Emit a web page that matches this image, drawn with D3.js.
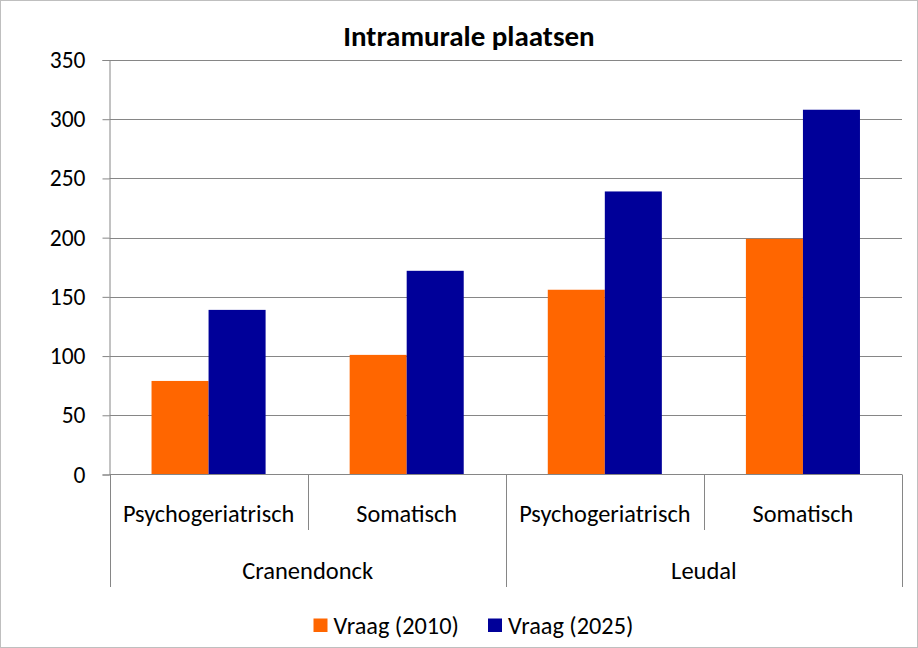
<!DOCTYPE html>
<html>
<head>
<meta charset="utf-8">
<script src="https://cdn.jsdelivr.net/npm/d3@7/dist/d3.min.js"></script>
<style>
  html, body { margin: 0; padding: 0; background: #fff; }
  svg { display: block; }
  text { font-family: Carlito, Calibri, Lato, "Open Sans", sans-serif; fill: #000; }
</style>
</head>
<body>
<svg id="chart" width="918" height="648"></svg>
<script>
const title = "Intramurale plaatsen";
const groups = ["Cranendonck", "Leudal"];
const categories = ["Psychogeriatrisch", "Somatisch"];
const seriesNames = ["Vraag (2010)", "Vraag (2025)"];
const vraag2010 = [79, 101, 156, 199];
const vraag2025 = [139, 172, 239, 308];
const yTicks = [0, 50, 100, 150, 200, 250, 300, 350];
const colors = ["#FF6600", "#000099"];

(function () {
const svg = d3.select("#chart");
const W = 918, H = 648;
const pLeft = 109.5, pRight = 902, pTop = 60, pBottom = 474.5;

svg.append("rect").attr("x", 0.5).attr("y", 0.5).attr("width", W - 1).attr("height", H - 1)
  .attr("fill", "#fff").attr("stroke", "#BFBFBF");

const keys = [];
groups.forEach(g => categories.forEach(c => keys.push(g + "|" + c)));
const values = [vraag2010, vraag2025];

const x0 = d3.scaleBand().domain(keys).range([pLeft, pRight]).paddingInner(0).paddingOuter(0);
const x1 = d3.scaleBand().domain(seriesNames).range([0, x0.bandwidth()]).paddingInner(0).paddingOuter(0.737);
const xg = d3.scaleBand().domain(groups).range([pLeft, pRight]);
const y = d3.scaleLinear().domain([0, 350]).range([pBottom, pTop]);

svg.append("g").selectAll("line").data(yTicks.filter(t => t > 0)).join("line")
  .attr("x1", pLeft).attr("x2", pRight)
  .attr("y1", d => Math.round(y(d)) + 0.5).attr("y2", d => Math.round(y(d)) + 0.5)
  .attr("stroke", "#868686").attr("stroke-width", 1);

const barG = svg.append("g");
seriesNames.forEach((s, si) => {
  barG.selectAll("rect.s" + si).data(keys).join("rect")
    .attr("class", "s" + si)
    .attr("x", (k) => x0(k) + x1(s))
    .attr("width", x1.bandwidth())
    .attr("y", (k, i) => y(values[si][i]))
    .attr("height", (k, i) => y(0) - y(values[si][i]))
    .attr("fill", colors[si]);
});

const yAxis = d3.axisLeft(y).tickValues(yTicks).tickSize(7).tickPadding(17);
const yg = svg.append("g").attr("transform", `translate(${pLeft},0)`).call(yAxis);
yg.select(".domain").attr("stroke", "#868686");
yg.selectAll(".tick line").attr("stroke", "#868686");
yg.selectAll(".tick text").attr("font-size", 23.5).attr("font-family", "Carlito, Calibri, Lato, sans-serif").attr("fill", "#000");

svg.append("line").attr("x1", pLeft).attr("x2", pRight).attr("y1", pBottom).attr("y2", pBottom)
  .attr("stroke", "#868686");

const innerBottom = 530, outerBottom = 587;
const catBounds = keys.map(k => x0(k)).concat([pRight]);
svg.append("g").selectAll("line").data(catBounds).join("line")
  .attr("x1", d => Math.round(d) + 0.5).attr("x2", d => Math.round(d) + 0.5)
  .attr("y1", pBottom).attr("y2", (d, i) => (i % 2 === 0) ? outerBottom : innerBottom)
  .attr("stroke", "#868686");

svg.append("g").selectAll("text").data(keys).join("text")
  .attr("x", k => x0(k) + x0.bandwidth() / 2)
  .attr("y", 522)
  .attr("text-anchor", "middle")
  .attr("font-size", 24.3)
  .text(k => k.split("|")[1]);

svg.append("g").selectAll("text").data(groups).join("text")
  .attr("x", g => xg(g) + xg.bandwidth() / 2)
  .attr("y", 579)
  .attr("text-anchor", "middle")
  .attr("font-size", 24.5)
  .text(g => g);

svg.append("text").attr("x", 469).attr("y", 46).attr("text-anchor", "middle")
  .attr("font-size", 29).attr("font-weight", "bold").text(title);

const legendX = [313.5, 488];
const lg = svg.append("g");
seriesNames.forEach((s, i) => {
  lg.append("rect").attr("x", legendX[i]).attr("y", 618.5).attr("width", 14).attr("height", 13.5).attr("fill", colors[i]);
  lg.append("text").attr("x", legendX[i] + 20).attr("y", 634).attr("font-size", 24.3).text(s);
});
})();
</script>
</body>
</html>
